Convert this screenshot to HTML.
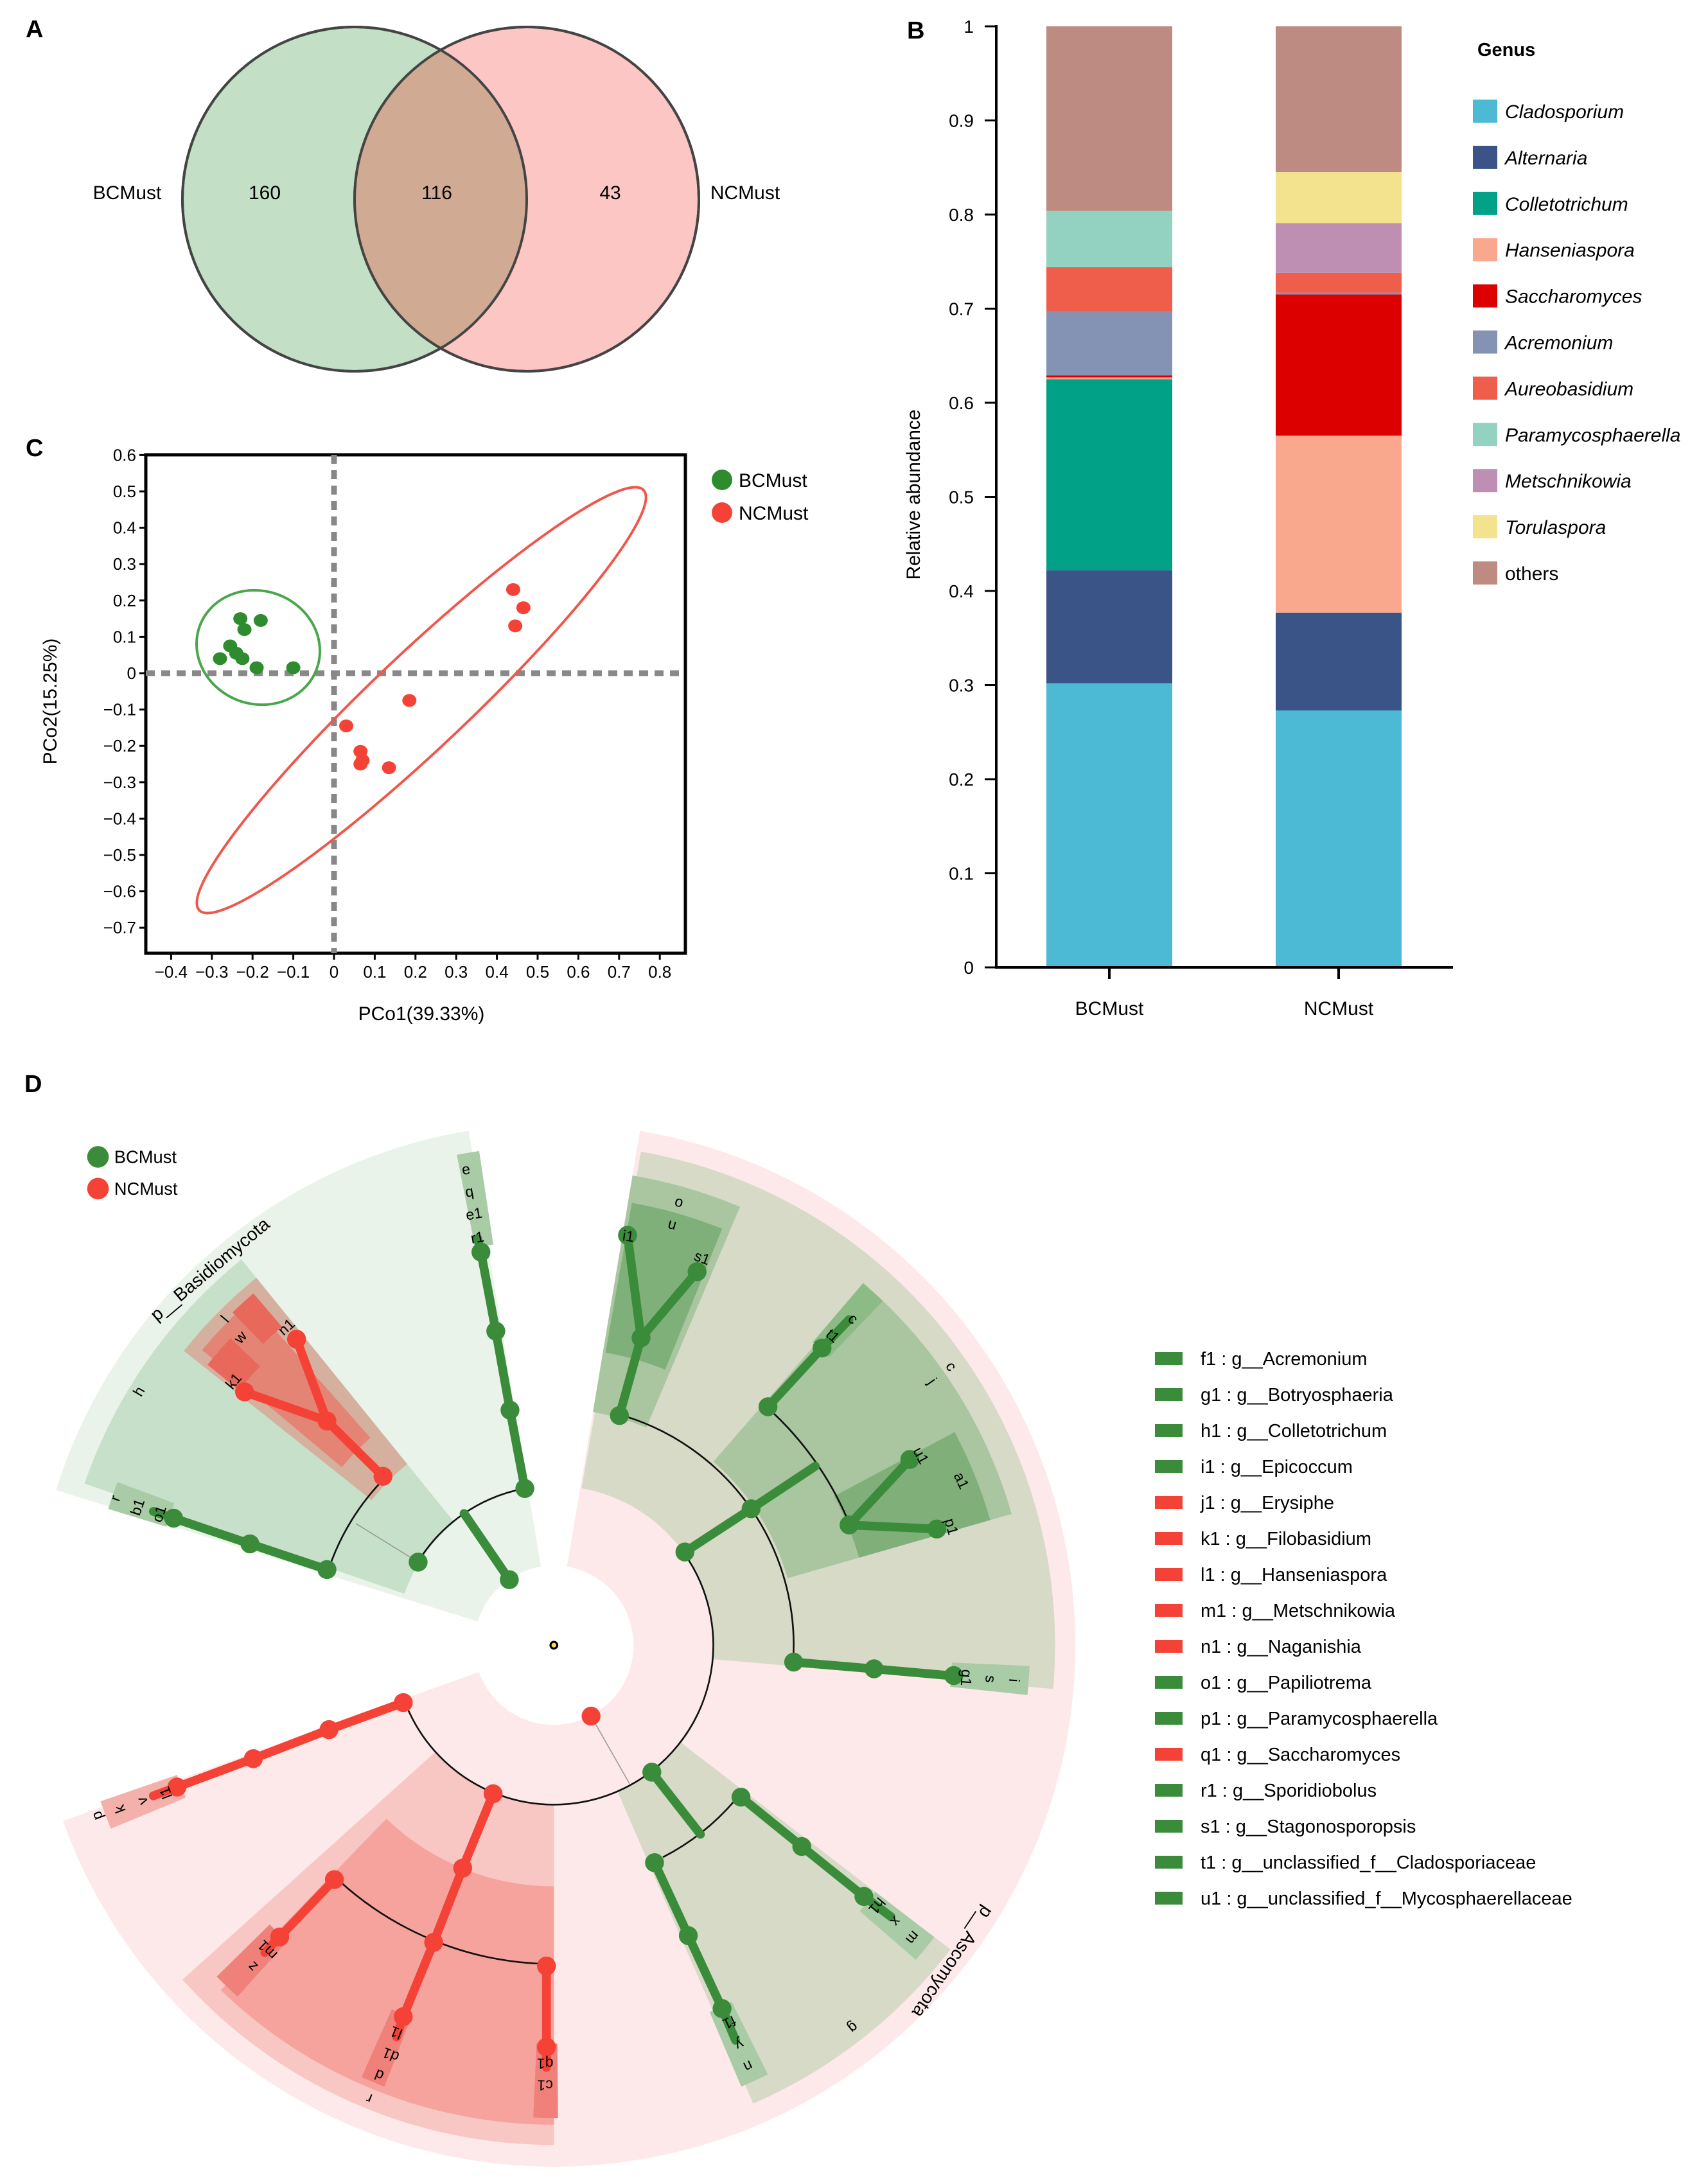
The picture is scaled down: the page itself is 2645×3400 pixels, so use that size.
<!DOCTYPE html>
<html><head><meta charset="utf-8">
<style>
html,body{margin:0;padding:0;background:#fff;}
svg{display:block;font-family:"Liberation Sans",Arial,sans-serif;}
</style></head>
<body>
<svg id="root" width="2645" height="3400" viewBox="0 0 2645 3400" xmlns="http://www.w3.org/2000/svg">
<g>
  <text x="40" y="58" font-size="38" font-weight="bold">A</text>
  <circle cx="552" cy="310" r="268" fill="#c3dfc6" stroke="#444" stroke-width="4"/>
  <circle cx="820" cy="310" r="268" fill="#fbc6c4" stroke="#444" stroke-width="4"/>
  <clipPath id="clipL"><circle cx="552" cy="310" r="268"/></clipPath>
  <circle cx="820" cy="310" r="268" fill="#d1aa94" clip-path="url(#clipL)"/>
  <circle cx="552" cy="310" r="268" fill="none" stroke="#444" stroke-width="4"/>
  <circle cx="820" cy="310" r="268" fill="none" stroke="#444" stroke-width="4"/>
  <text x="198" y="310" font-size="30" text-anchor="middle">BCMust</text>
  <text x="412" y="310" font-size="30" text-anchor="middle">160</text>
  <text x="680" y="310" font-size="30" text-anchor="middle">116</text>
  <text x="950" y="310" font-size="30" text-anchor="middle">43</text>
  <text x="1160" y="310" font-size="30" text-anchor="middle">NCMust</text>
</g>
<g id="panelC">
  <text x="40" y="710" font-size="38" font-weight="bold">C</text>
</g>
<g id="panelB">
  <text x="1412" y="60" font-size="38" font-weight="bold">B</text>
</g>
<g>
  <text x="38" y="1700" font-size="38" font-weight="bold">D</text>
  <g id="clado" transform="translate(60,1720) scale(1.0515)"></g>
  <g id="cladoLegend"></g>
</g>
</svg>
<script>
const NS="http://www.w3.org/2000/svg";
function mk(tag,attrs,parent){const e=document.createElementNS(NS,tag);for(const k in attrs)e.setAttribute(k,attrs[k]);parent.appendChild(e);return e;}

const pcoaXTicks=[-0.4,-0.3,-0.2,-0.1,0,0.1,0.2,0.3,0.4,0.5,0.6,0.7,0.8];
const pcoaYTicks=[0.6,0.5,0.4,0.3,0.2,0.1,0,-0.1,-0.2,-0.3,-0.4,-0.5,-0.6,-0.7];
const bcX=[-0.23,-0.18,-0.22,-0.255,-0.24,-0.28,-0.225,-0.19,-0.10];
const bcY=[0.15,0.145,0.12,0.075,0.055,0.04,0.04,0.015,0.015];
const ncX=[0.44,0.465,0.445,0.185,0.03,0.065,0.07,0.065,0.135];
const ncY=[0.23,0.18,0.13,-0.075,-0.145,-0.215,-0.24,-0.25,-0.26];
(function(){
  const g=document.getElementById('panelC');
  const L=227,R=1067,T=708,B=1484;
  const sx=v=>520+v*634, sy=v=>1048-v*566;
  let r=mk('rect',{x:L,y:T,width:R-L,height:B-T,fill:'none',stroke:'#000','stroke-width':5},g);
  
  
  let vl=mk('line',{x1:sx(0),y1:T,x2:sx(0),y2:B,stroke:'#888','stroke-width':9,'stroke-dasharray':'14 10'},g);
  
  
  let hl=mk('line',{x1:L,y1:sy(0),x2:R,y2:sy(0),stroke:'#888','stroke-width':9,'stroke-dasharray':'14 10'},g);
  
  
  pcoaXTicks.forEach(v=>{
    mk('line',{x1:sx(v),y1:B,x2:sx(v),y2:B+10,stroke:'#000','stroke-width':3},g);
    let t=mk('text',{x:sx(v),y:1522,'font-size':26,'text-anchor':'middle'},g);
    t.textContent=(v<0?'\u2212'+Math.abs(v):String(v));
    
    
  });
  pcoaYTicks.forEach(v=>{
    mk('line',{x1:L-10,y1:sy(v),x2:L,y2:sy(v),stroke:'#000','stroke-width':3},g);
    let t=mk('text',{x:212,y:sy(v)+9,'font-size':26,'text-anchor':'end'},g);
    t.textContent=(v<0?'\u2212'+Math.abs(v):String(v));
    
    
  });
  let e1=mk('ellipse',{cx:402,cy:1008,rx:97,ry:88,fill:'none',stroke:'#4aa64a','stroke-width':4,transform:'rotate(20 402 1008)'},g);
  
  
  let e2=mk('ellipse',{cx:656,cy:1090,rx:476,ry:74,fill:'none',stroke:'#f0574c','stroke-width':4,transform:'rotate(-43.4 656 1090)'},g);
  
  
  bcX.forEach((v,i)=>{let c=mk('ellipse',{cx:sx(v),cy:sy(bcY[i]),rx:11,ry:10,fill:'#2e8b2e'},g);
    
    });
  ncX.forEach((v,i)=>{let c=mk('ellipse',{cx:sx(v),cy:sy(ncY[i]),rx:11,ry:10,fill:'#f44336'},g);
    
    });
  let xt=mk('text',{x:656,y:1588,'font-size':30,'text-anchor':'middle'},g);xt.textContent='PCo1(39.33%)';
  
  
  let yt=mk('text',{x:0,y:0,'font-size':30,'text-anchor':'middle',transform:'translate(88,1092) rotate(-90)'},g);yt.textContent='PCo2(15.25%)';
  
  
  [['BCMust','#2e8b2e',747],['NCMust','#f44336',798]].forEach(d=>{
    let c=mk('circle',{cx:1124,cy:d[2],r:16,fill:d[1]},g);
    
    
    let t=mk('text',{x:1150,y:d[2]+11,'font-size':30},g);t.textContent=d[0];
    
    
  });
})();

const barSamples=['BCMust','NCMust'];
const genera=['Cladosporium','Alternaria','Colletotrichum','Hanseniaspora','Saccharomyces','Acremonium','Aureobasidium','Paramycosphaerella','Metschnikowia','Torulaspora','others'];
const genusColors=['#4cb9d5','#3b5488','#00a187','#f9a88e','#dc0000','#8492b3','#ee5e4b','#93d1c1','#be8fb2','#f4e38e','#bd8b81'];
const bcmustValues=[0.302,0.120,0.203,0.002,0.002,0.068,0.047,0.060,0.000,0.000,0.196];
const ncmustValues=[0.273,0.104,0.000,0.188,0.150,0.002,0.021,0.000,0.053,0.054,0.155];
const barTicks=[0,0.1,0.2,0.3,0.4,0.5,0.6,0.7,0.8,0.9,1];
(function(){
  const g=document.getElementById('panelB');
  const X0=1551,Y0=1506,Y1=41;
  const sy=v=>Y0-v*(Y0-Y1);
  const centers=[1727,2084], bw=196;
  [bcmustValues,ncmustValues].forEach((vals,si)=>{
    let acc=0;
    vals.forEach((v,gi)=>{
      if(v<=0) return;
      let r=mk('rect',{x:centers[si]-bw/2,y:sy(acc+v),width:bw,height:sy(acc)-sy(acc+v),fill:genusColors[gi]},g);
      
      
      acc+=v;
    });
  });
  let ya=mk('line',{x1:X0,y1:Y1-2,x2:X0,y2:Y0,stroke:'#000','stroke-width':4},g);
  
  
  let xa=mk('line',{x1:X0-2,y1:Y0,x2:2262,y2:Y0,stroke:'#000','stroke-width':4},g);
  
  
  barTicks.forEach(v=>{
    mk('line',{x1:X0-18,y1:sy(v),x2:X0,y2:sy(v),stroke:'#000','stroke-width':3},g);
    let t=mk('text',{x:1516,y:sy(v)+10,'font-size':28,'text-anchor':'end'},g);t.textContent=String(v);
    
    
  });
  barSamples.forEach((s,i)=>{
    mk('line',{x1:centers[i],y1:Y0,x2:centers[i],y2:Y0+18,stroke:'#000','stroke-width':4},g);
    let t=mk('text',{x:centers[i],y:1580,'font-size':30,'text-anchor':'middle'},g);t.textContent=s;
    
    
  });
  let yt=mk('text',{x:0,y:0,'font-size':30,'text-anchor':'middle',transform:'translate(1432,770) rotate(-90)'},g);yt.textContent='Relative abundance';
  
  
  let gt=mk('text',{x:2300,y:87,'font-size':29,'font-weight':'bold'},g);gt.textContent='Genus';
  
  
  genera.forEach((n,i)=>{
    const y=173+i*71.9;
    let r=mk('rect',{x:2293,y:y-18,width:38,height:36,fill:genusColors[i]},g);
    
    
    let t=mk('text',{x:2343,y:y+11,'font-size':30,'font-style':n==='others'?'normal':'italic'},g);t.textContent=n;
    
    
  });
})();

(function(){
  const g=document.getElementById('clado');
  const CX=763,CY=800;
  const P=(r,a)=>{const t=a*Math.PI/180;return [CX+r*Math.sin(t),CY-r*Math.cos(t)];};
  function sector(a0,a1,r0,r1,fill,name){
    const p1=P(r1,a0),p2=P(r1,a1),p3=P(r0,a1),p4=P(r0,a0);const lg=(a1-a0)>180?1:0;
    const d=`M${p1[0]},${p1[1]} A${r1},${r1} 0 ${lg} 1 ${p2[0]},${p2[1]} L${p3[0]},${p3[1]} A${r0},${r0} 0 ${lg} 0 ${p4[0]},${p4[1]} Z`;
    const e=mk('path',{d:d,fill:fill},g);
    
    
  }
  sector(-72.7,-9.4,118,772,'#eaf3e9','basidiomycota-sector');
  sector(9.5,250.3,118,772,'#fde9e9','ascomycota-sector');
  sector(-71,-39,234,735,'#c6e0c9','basidio-clade-h');
  sector(-51.5,-39,345,700,'#d6b09e','basidio-clade-l');
  sector(-50,-41.5,410,680,'#e38474','basidio-clade-w');
  sector(-51,-46.5,600,660,'#e8695c','leaf-k1-strip');
  sector(-44,-40.5,620,685,'#e8695c','leaf-n1-strip');
  sector(10,95,236,742,'#d6dac6','asco-clade-olive-1');
  sector(127.5,156.5,236,740,'#d6dac6','asco-clade-olive-2');
  sector(9.5,23,350,705,'#a9c6a0','asco-clade-o');
  sector(10,22,440,665,'#80b07a','asco-clade-u');
  sector(41,74,360,705,'#a9c6a0','asco-clade-c');
  sector(62,74,470,672,'#80af79','asco-clade-a1');
  sector(180,228,236,740,'#f9c7c3','asco-clade-r');
  sector(180,224,357,710,'#f6a39d','asco-clade-d');
  sector(-11.2,-8.6,600,740,'#a9cba6','leaf-r1-strip');
  sector(-73,-69.5,600,690,'#a9cba6','leaf-o1-strip');
  sector(92.5,96,590,705,'#a9cba6','leaf-g1-strip');
  sector(127.5,131,600,710,'#a9cba6','leaf-h1-strip');
  sector(153.5,157,590,710,'#a9cba6','leaf-f1-strip');
  sector(40.5,43.7,590,705,'#8dbb86','leaf-t1-strip');
  sector(179.5,182.5,590,700,'#f0807a','leaf-q1-strip');
  sector(201,204,590,700,'#f0807a','leaf-l1-strip');
  sector(222,225.5,590,700,'#f0807a','leaf-m1-strip');
  sector(247.5,251,590,710,'#f4b0ab','leaf-j1-strip');
  function arc(r,a0,a1,col,w){const p1=P(r,a0),p2=P(r,a1);const lg=(a1-a0)>180?1:0;
    const e=mk('path',{d:`M${p1[0]},${p1[1]} A${r},${r} 0 ${lg} 1 ${p2[0]},${p2[1]}`,fill:'none',stroke:col,'stroke-width':w},g);
    
    }
  arc(352,-71.4,-45.3,'#111',2.5);arc(236,-58.5,-10.5,'#111',2.5);arc(355,16,94,'#111',2.5);
  arc(236,55,249,'#111',2.5);arc(473,42,68,'#111',2.5);arc(353,130.7,152.8,'#111',2.5);arc(472,181,222,'#111',2.5);
  const thin=[[562,677,470,620],[818,905,875,1005]];
  thin.forEach(l=>{const e=mk('line',{x1:l[0],y1:l[1],x2:l[2],y2:l[3],stroke:'#999','stroke-width':1.5},g);
    
    });
  const G='#3a8c3a',Rd='#f44336';
  const lines=[
   [G,[[427,688],[313,650],[200,612],[170,602]]],
   [G,[[720,568],[698,452],[677,335],[655,218],[650,198]]],
   [G,[[630,605],[697,703]]],
   [Rd,[[510,550],[427,468],[305,425]]],
   [Rd,[[427,468],[382,347]]],
   [G,[[860,460],[892,345],[872,193]]],
   [G,[[892,345],[975,247]]],
   [G,[[957,662],[1055,598],[1150,535]]],
   [G,[[1080,447],[1160,360],[1200,318]]],
   [G,[[1290,525],[1200,622],[1330,628]]],
   [G,[[1118,825],[1237,835],[1360,846]]],
   [G,[[908,988],[980,1080]]],
   [G,[[1040,1025],[1130,1098],[1222,1172],[1262,1202]]],
   [G,[[912,1122],[962,1230],[1012,1338],[1032,1385]]],
   [Rd,[[540,885],[430,925],[318,968],[205,1010],[170,1023]]],
   [Rd,[[673,1020],[628,1130],[585,1240],[540,1350],[530,1380]]],
   [Rd,[[438,1147],[357,1232],[335,1255]]],
   [Rd,[[752,1275],[752,1395],[752,1425]]]
  ];
  lines.forEach(l=>{const e=mk('polyline',{points:l[1].map(p=>p.join(',')).join(' '),fill:'none',stroke:l[0],'stroke-width':13,'stroke-linecap':'round','stroke-linejoin':'round'},g);
    
    });
  const nodes=[
   [G,427,688],[G,313,650],[G,200,612],[G,562,677],[G,720,568],[G,698,452],[G,677,335],[G,655,218],[G,697,703],
   [Rd,510,550],[Rd,427,468],[Rd,305,425],[Rd,382,347],
   [G,860,460],[G,892,345],[G,872,193],[G,975,247],[G,957,662],[G,1055,598],[G,1080,447],[G,1160,360],
   [G,1200,622],[G,1290,525],[G,1330,628],[G,1118,825],[G,1237,835],[G,1355,845],
   [G,908,988],[G,1040,1025],[G,1130,1098],[G,1222,1172],[G,912,1122],[G,962,1230],[G,1012,1338],
   [Rd,818,905],[Rd,540,885],[Rd,430,925],[Rd,318,968],[Rd,205,1010],
   [Rd,673,1020],[Rd,628,1130],[Rd,585,1240],[Rd,540,1350],[Rd,438,1147],[Rd,357,1232],[Rd,752,1275],[Rd,752,1395]
  ];
  nodes.forEach(n=>{const c=mk('circle',{cx:n[1],cy:n[2],r:14,fill:n[0]},g);
    
    });
  mk('circle',{cx:CX,cy:CY,r:5,fill:'#f5e050',stroke:'#000','stroke-width':3},g);
  const labels=[['e',633,97,-10],['q',638,130,-10],['e1',645,163,-10],['r1',650,198,-10],
   ['o',948,145,15],['u',938,178,15],['i1',873,196,8],['s1',982,228,20],['c',1205,318,42],['t1',1175,343,42],
   ['c',1350,388,55],['j',1322,410,55],['u1',1305,520,62],['a1',1365,557,65],['p1',1350,625,74],
   ['g1',1372,848,94],['s',1408,850,94],['i',1443,852,94],['h1',1240,1185,130],['x',1268,1208,130],['m',1293,1232,130],
   ['f1',1022,1357,155],['y',1037,1390,155],['n',1050,1422,155],['g',1205,1365,140],
   ['z',318,1275,225],['m1',340,1250,225],['l1',530,1372,202],['d1',522,1405,202],['d',505,1435,202],['r',490,1470,202],
   ['q1',750,1418,181],['c1',750,1450,181],['l1',190,1018,249],['v',155,1030,249],['k',122,1042,249],['p',88,1052,249],
   ['r',115,583,-71],['b1',148,596,-71],['o1',180,606,-71],['h',150,425,-60],['l',277,318,-50],['w',300,345,-48],['n1',368,330,-42],['k1',290,410,-50]];
  labels.forEach(l=>{const t=mk('text',{x:l[1],y:l[2],'font-size':22,'text-anchor':'middle','dominant-baseline':'middle',transform:`rotate(${l[3]} ${l[1]} ${l[2]})`},g);t.textContent=l[0];
    
    });
  const pb=mk('text',{x:255,y:245,'font-size':27,'text-anchor':'middle','dominant-baseline':'middle',transform:'rotate(-40 255 245)'},g);pb.textContent='p__Basidiomycota';
  
  
  const pa=mk('text',{x:1352,y:1268,'font-size':27,'text-anchor':'middle','dominant-baseline':'middle',transform:'rotate(124 1352 1268)'},g);pa.textContent='p__Ascomycota';
  
  
  [['BCMust',G,77],['NCMust',Rd,124]].forEach(d=>{
    const c=mk('circle',{cx:88,cy:d[2],r:16,fill:d[1]},g);
    
    
    const t=mk('text',{x:112,y:d[2]+9,'font-size':26},g);t.textContent=d[0];
    
    
  });
})();
(function(){
  const g=document.getElementById('cladoLegend');
  const items=[['f1 : g__Acremonium',0],['g1 : g__Botryosphaeria',0],['h1 : g__Colletotrichum',0],['i1 : g__Epicoccum',0],
   ['j1 : g__Erysiphe',1],['k1 : g__Filobasidium',1],['l1 : g__Hanseniaspora',1],['m1 : g__Metschnikowia',1],['n1 : g__Naganishia',1],
   ['o1 : g__Papiliotrema',0],['p1 : g__Paramycosphaerella',0],['q1 : g__Saccharomyces',1],['r1 : g__Sporidiobolus',0],
   ['s1 : g__Stagonosporopsis',0],['t1 : g__unclassified_f__Cladosporiaceae',0],['u1 : g__unclassified_f__Mycosphaerellaceae',0]];
  items.forEach((it,i)=>{
    const y=2115+i*56;
    const r=mk('rect',{x:1798,y:y-10,width:43,height:20,fill:it[1]?'#f44336':'#3a8c3a'},g);
    
    
    const t=mk('text',{x:1869,y:y+10,'font-size':29},g);t.textContent=it[0];
    
    
  });
})();
</script>
</body></html>
